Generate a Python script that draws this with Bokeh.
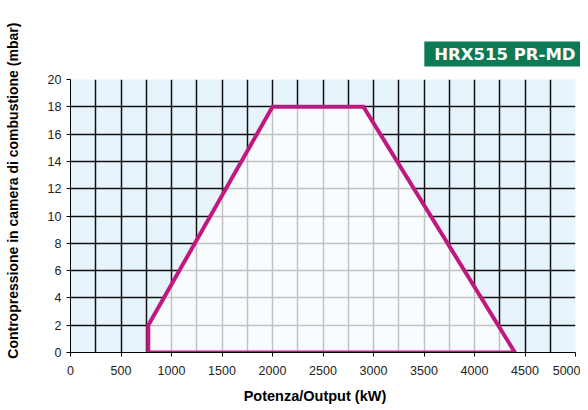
from bokeh.plotting import figure
from bokeh.models import FixedTicker, Range1d
from bokeh.embed import file_html
from bokeh.resources import INLINE

# ---- data ----
power_kw = [770, 770, 2000, 2900, 4400, 770]
pressure_mbar = [0, 2, 18, 18, 0, 0]
x_ticks = [0, 500, 1000, 1500, 2000, 2500, 3000, 3500, 4000, 4500, 5000]
y_ticks = [0, 2, 4, 6, 8, 10, 12, 14, 16, 18, 20]
x_grid = [0, 250, 500, 750, 1000, 1250, 1500, 1750, 2000, 2250, 2500, 2750, 3000,
          3250, 3500, 3750, 4000, 4250, 4500, 4750, 5000]
title_text = "HRX515 PR-MD"
x_label = "Potenza/Output (kW)"
y_label = "Contropressione in camera di combustione (mbar)"

FONT = "Liberation Sans"

p = figure(width=580, height=410, output_backend="svg", toolbar_location=None,
           x_range=Range1d(0, 5000), y_range=Range1d(0, 20),
           min_border_left=70, min_border_right=5, min_border_top=79, min_border_bottom=58)
p.outline_line_color = None
p.border_fill_color = "white"
p.background_fill_color = "#e8f4fc"

for ax in (p.xaxis[0], p.yaxis[0]):
    ax.axis_line_color = "black"
    ax.axis_line_width = 1
    ax.major_tick_line_color = "black"
    ax.major_tick_out = 4
    ax.major_tick_in = 0
    ax.minor_tick_line_color = None
    ax.major_label_text_font = FONT
    ax.major_label_text_font_size = "12.5px"
    ax.major_label_text_color = "#222222"
    ax.axis_label_text_font = FONT
    ax.axis_label_text_font_style = "bold"
    ax.axis_label_text_color = "black"
p.xaxis.ticker = FixedTicker(ticks=x_ticks)
p.yaxis.ticker = FixedTicker(ticks=y_ticks)
p.xaxis.major_label_standoff = 9
p.yaxis.major_label_standoff = 5

# axis titles (no-break spaces shift them off the frame centre, as in the original)
p.yaxis.axis_label = "\u00a0" * 13 + y_label
p.yaxis.axis_label_standoff = 24
p.yaxis.axis_label_text_font_size = "14px"
p.xaxis.axis_label = x_label + "\u00a0" * 4
p.xaxis.axis_label_standoff = 10
p.xaxis.axis_label_text_font_size = "14.5px"

p.xgrid.ticker = FixedTicker(ticks=x_grid)
p.ygrid.ticker = FixedTicker(ticks=y_ticks)
for g in (p.xgrid[0], p.ygrid[0]):
    g.grid_line_color = "#111111"
    g.grid_line_width = 1.5

p.patch(power_kw, pressure_mbar, fill_color="white", fill_alpha=0.74, line_color=None)
p.line(power_kw, pressure_mbar, line_color="#c0187f", line_width=4, line_join="miter")

# green badge as the plot title
p.title.text = title_text
p.title.align = "right"
p.title.text_font = "DejaVu Sans"
p.title.text_font_size = "16.5px"
p.title.text_font_style = "bold"
p.title.text_color = "white"
p.title.background_fill_color = "#0b7a55"
p.title.padding = dict(left=10, right=7, top=3, bottom=3)
p.title.standoff = 26
p.title.offset = -7

open("out.html", "w").write(file_html(p, INLINE))
